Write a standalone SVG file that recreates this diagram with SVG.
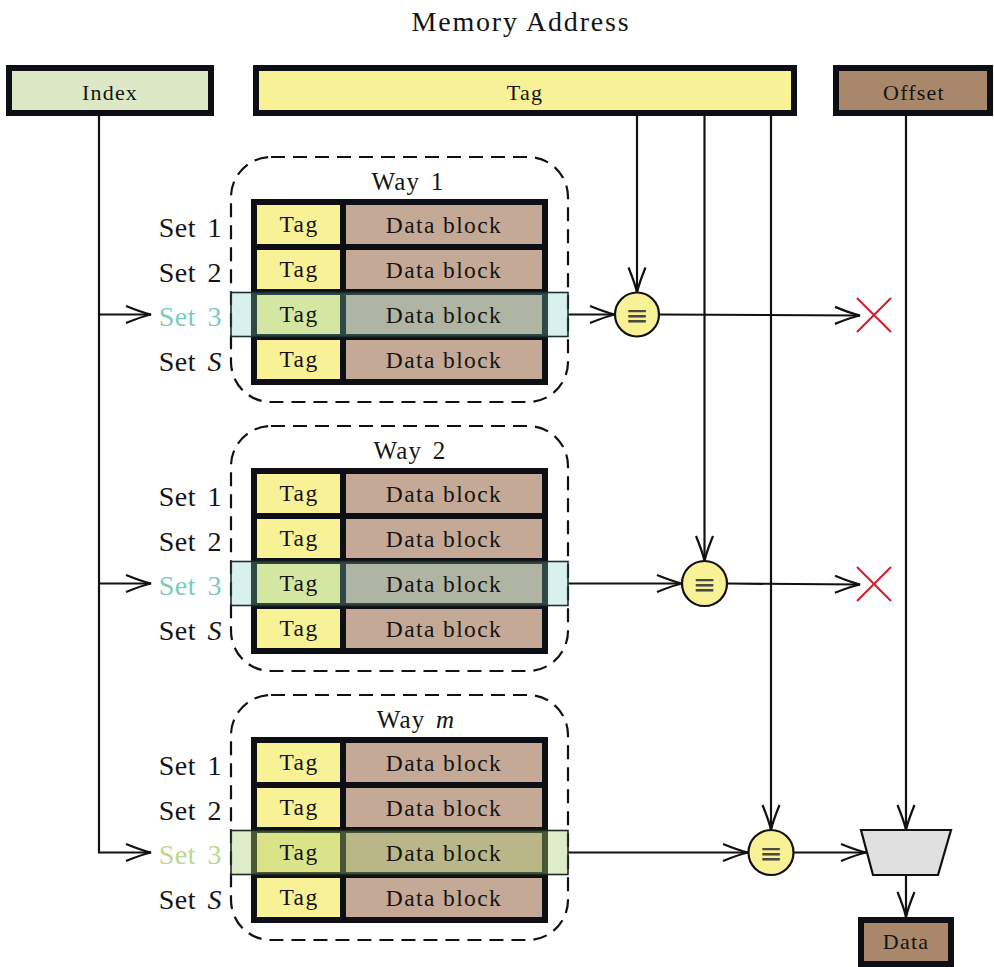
<svg xmlns="http://www.w3.org/2000/svg" width="994" height="967" viewBox="0 0 994 967">
<defs>
<style>
text{font-family:"Liberation Serif","Times New Roman",serif;fill:#141414}
.title{font-size:28px;letter-spacing:1.8px;text-anchor:middle}
.box{font-size:22px;letter-spacing:1.2px;text-anchor:middle}
.cell{font-size:23.5px;letter-spacing:1.4px;text-anchor:middle}
.set{font-size:28px;letter-spacing:0.5px;word-spacing:4px;text-anchor:end}
.way{font-size:25px;letter-spacing:1.2px;word-spacing:3px;text-anchor:middle}
.thick{stroke:#0d0f14;stroke-width:6}
.tagc{fill:#f9f195}
.datac{fill:#c4a996}
.dash{fill:none;stroke:#111;stroke-width:2.2;stroke-dasharray:14 8}
.hl1{fill:#7fcfc0;fill-opacity:0.3;stroke:#1f2f2f;stroke-width:1.6}
.hlm{fill:#a8cc70;fill-opacity:0.38;stroke:#1f2a1f;stroke-width:1.6}
.con{fill:none;stroke:#111;stroke-width:2.2}
.cmp{fill:#f9f195;stroke:#111;stroke-width:2.2}
.eq{font-family:"DejaVu Sans",sans-serif;font-size:28px;fill:#4a4a40;text-anchor:middle}
.x{stroke:#d4202e;stroke-width:2.2}
</style>
<marker id="arr" markerUnits="userSpaceOnUse" markerWidth="30" markerHeight="20" viewBox="-28 -10 30 20" refX="0" refY="0" orient="auto" overflow="visible">
<path d="M-25,-8.5 Q-9,-2 0,0 Q-9,2 -25,8.5" fill="none" stroke="#111" stroke-width="2.2"/>
</marker>
</defs>
<rect width="994" height="967" fill="#fff"/>
<text class="title" x="521" y="31">Memory Address</text>

<g id="index">
<rect x="9" y="68" width="202" height="45" fill="#dde9c6" class="thick"/>
<text class="box" x="110" y="100">Index</text>
</g>
<g id="tag">
<rect x="256" y="68" width="538" height="45" fill="#f9f195" class="thick"/>
<text class="box" x="525" y="100">Tag</text>
</g>
<g id="offset">
<rect x="836" y="68" width="154" height="45" fill="#a8876a" class="thick"/>
<text class="box" x="914" y="100">Offset</text>
</g>

<g id="connectors">
<path class="con" d="M99,116 V852.5 H151" marker-end="url(#arr)"/>
<path class="con" d="M99,314.5 H151" marker-end="url(#arr)"/>
<path class="con" d="M99,583.5 H151" marker-end="url(#arr)"/>
<path class="con" d="M568,314.5 H615" marker-end="url(#arr)"/>
<path class="con" d="M568,583.5 H682" marker-end="url(#arr)"/>
<path class="con" d="M568,852.5 H748" marker-end="url(#arr)"/>
<path class="con" d="M637,116 V292.5" marker-end="url(#arr)"/>
<path class="con" d="M704.5,116 V561" marker-end="url(#arr)"/>
<path class="con" d="M771,116 V830" marker-end="url(#arr)"/>
<path class="con" d="M659,314.5 L860,315.5" marker-end="url(#arr)"/>
<path class="con" d="M727,583.5 L860,584.5" marker-end="url(#arr)"/>
<path class="con" d="M794,852.5 H866" marker-end="url(#arr)"/>
<path class="con" d="M906,116 V830" marker-end="url(#arr)"/>
<path class="con" d="M906,875 V917" marker-end="url(#arr)"/>
</g>

<g id="way1">
<rect class="dash" x="231" y="157" width="337" height="245" rx="40"/>
<text class="way" x="408" y="190">Way 1</text>
<rect class="thick tagc" x="254" y="202" width="89" height="45"/><rect class="thick datac" x="343" y="202" width="202" height="45"/>
<rect class="thick tagc" x="254" y="247" width="89" height="45"/><rect class="thick datac" x="343" y="247" width="202" height="45"/>
<rect class="thick tagc" x="254" y="292" width="89" height="45"/><rect class="thick datac" x="343" y="292" width="202" height="45"/>
<rect class="thick tagc" x="254" y="337" width="89" height="45"/><rect class="thick datac" x="343" y="337" width="202" height="45"/>
<rect class="hl1" x="231" y="292.5" width="337" height="44"/>
<text class="cell" x="299" y="232">Tag</text><text class="cell" x="444" y="233">Data block</text>
<text class="cell" x="299" y="277">Tag</text><text class="cell" x="444" y="278">Data block</text>
<text class="cell" x="299" y="322">Tag</text><text class="cell" x="444" y="323">Data block</text>
<text class="cell" x="299" y="367">Tag</text><text class="cell" x="444" y="368">Data block</text>
<text class="set" x="222" y="237">Set 1</text>
<text class="set" x="222" y="282">Set 2</text>
<text class="set" x="222" y="326" style="fill:#7dcbbb">Set 3</text>
<text class="set" x="222" y="371">Set <tspan font-style="italic">S</tspan></text>
</g>

<g id="way2">
<rect class="dash" x="231" y="426" width="337" height="245" rx="40"/>
<text class="way" x="410" y="459">Way 2</text>
<rect class="thick tagc" x="254" y="471" width="89" height="45"/><rect class="thick datac" x="343" y="471" width="202" height="45"/>
<rect class="thick tagc" x="254" y="516" width="89" height="45"/><rect class="thick datac" x="343" y="516" width="202" height="45"/>
<rect class="thick tagc" x="254" y="561" width="89" height="45"/><rect class="thick datac" x="343" y="561" width="202" height="45"/>
<rect class="thick tagc" x="254" y="606" width="89" height="45"/><rect class="thick datac" x="343" y="606" width="202" height="45"/>
<rect class="hl1" x="231" y="561.5" width="337" height="44"/>
<text class="cell" x="299" y="501">Tag</text><text class="cell" x="444" y="502">Data block</text>
<text class="cell" x="299" y="546">Tag</text><text class="cell" x="444" y="547">Data block</text>
<text class="cell" x="299" y="591">Tag</text><text class="cell" x="444" y="592">Data block</text>
<text class="cell" x="299" y="636">Tag</text><text class="cell" x="444" y="637">Data block</text>
<text class="set" x="222" y="506">Set 1</text>
<text class="set" x="222" y="551">Set 2</text>
<text class="set" x="222" y="595" style="fill:#7dcbbb">Set 3</text>
<text class="set" x="222" y="640">Set <tspan font-style="italic">S</tspan></text>
</g>

<g id="waym">
<rect class="dash" x="231" y="695" width="337" height="245" rx="40"/>
<text class="way" x="416" y="728">Way <tspan font-style="italic">m</tspan></text>
<rect class="thick tagc" x="254" y="740" width="89" height="45"/><rect class="thick datac" x="343" y="740" width="202" height="45"/>
<rect class="thick tagc" x="254" y="785" width="89" height="45"/><rect class="thick datac" x="343" y="785" width="202" height="45"/>
<rect class="thick tagc" x="254" y="830" width="89" height="45"/><rect class="thick datac" x="343" y="830" width="202" height="45"/>
<rect class="thick tagc" x="254" y="875" width="89" height="45"/><rect class="thick datac" x="343" y="875" width="202" height="45"/>
<rect class="hlm" x="231" y="830.5" width="337" height="44"/>
<text class="cell" x="299" y="770">Tag</text><text class="cell" x="444" y="771">Data block</text>
<text class="cell" x="299" y="815">Tag</text><text class="cell" x="444" y="816">Data block</text>
<text class="cell" x="299" y="860">Tag</text><text class="cell" x="444" y="861">Data block</text>
<text class="cell" x="299" y="905">Tag</text><text class="cell" x="444" y="906">Data block</text>
<text class="set" x="222" y="775">Set 1</text>
<text class="set" x="222" y="820">Set 2</text>
<text class="set" x="222" y="864" style="fill:#b9d98f">Set 3</text>
<text class="set" x="222" y="909">Set <tspan font-style="italic">S</tspan></text>
</g>

<g id="cmp1"><circle class="cmp" cx="637" cy="314.5" r="22"/><text class="eq" x="637" y="324.5">≡</text></g>
<g id="cmp2"><circle class="cmp" cx="704.5" cy="583.5" r="22.5"/><text class="eq" x="704.5" y="593.5">≡</text></g>
<g id="cmpm"><circle class="cmp" cx="771" cy="852.5" r="22.5"/><text class="eq" x="771" y="862.5">≡</text></g>

<g id="miss1"><line class="x" x1="857" y1="298" x2="891" y2="332"/><line class="x" x1="857" y1="332" x2="891" y2="298"/></g>
<g id="miss2"><line class="x" x1="857" y1="567" x2="891" y2="601"/><line class="x" x1="857" y1="601" x2="891" y2="567"/></g>

<g id="mux"><polygon points="861,830 951,830 938,875 873,875" fill="#e0e0e0" stroke="#111" stroke-width="2.2"/></g>

<g id="data">
<rect x="861" y="920" width="90" height="44" fill="#a8876a" class="thick"/>
<text class="box" x="906" y="949">Data</text>
</g>
</svg>
